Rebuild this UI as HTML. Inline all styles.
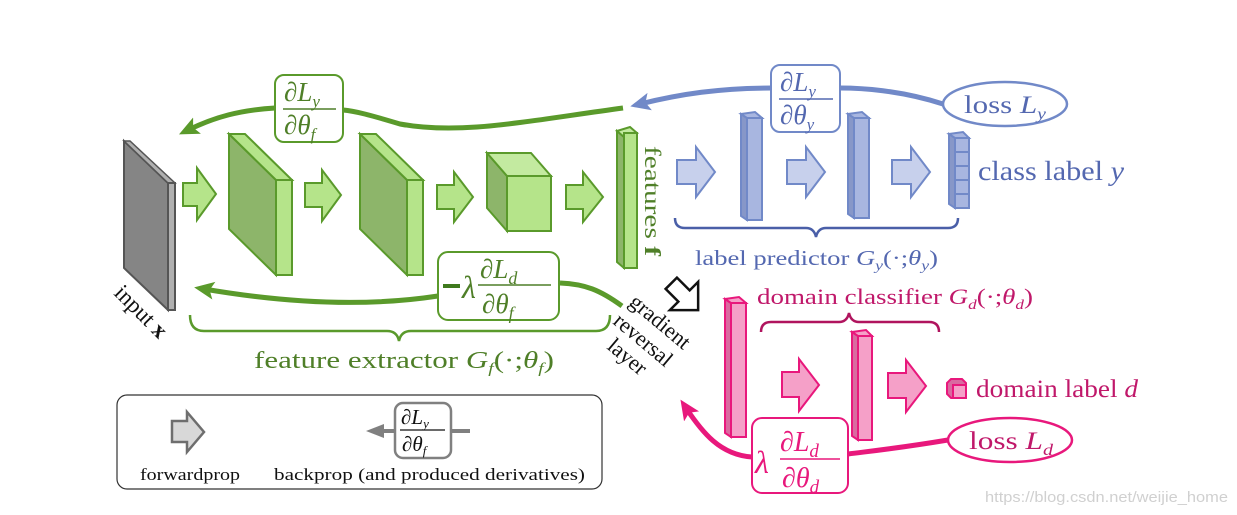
<!DOCTYPE html>
<html><head><meta charset="utf-8"><style>
html,body{margin:0;padding:0;background:#fff;}
svg{display:block;font-family:"Liberation Serif",serif;}
.i{font-style:italic}
</style></head><body>
<svg width="1237" height="515" viewBox="0 0 1237 515" xmlns="http://www.w3.org/2000/svg">
<defs>
<marker id="ag" markerWidth="4" markerHeight="4" viewBox="0 0 6 6" refX="3" refY="3" orient="auto" markerUnits="strokeWidth"><path d="M0,0.3 L6,3 L0,5.7 L1.3,3 z" fill="#5a9a2b"/></marker>
<marker id="ab" markerWidth="4" markerHeight="4" viewBox="0 0 6 6" refX="3" refY="3" orient="auto" markerUnits="strokeWidth"><path d="M0,0.3 L6,3 L0,5.7 L1.3,3 z" fill="#7189c8"/></marker>
<marker id="ap" markerWidth="4" markerHeight="4" viewBox="0 0 6 6" refX="3" refY="3" orient="auto" markerUnits="strokeWidth"><path d="M0,0.3 L6,3 L0,5.7 L1.3,3 z" fill="#e8187c"/></marker>
</defs>

<!-- input slab -->
<polygon points="124,141 168,183 168,310 124,268" fill="#858585" stroke="#555" stroke-width="2"/>
<polygon points="124,141 130,141 175,183 168,183" fill="#b0b0b0" stroke="#555" stroke-width="1.5"/>
<polygon points="168,183 175,183 175,310 168,310" fill="#b0b0b0" stroke="#555" stroke-width="2"/>

<!-- green arrows -->
<g fill="#b5e48a" stroke="#5a9a2b" stroke-width="2">
<polygon points="183,183 197,183 197,168 216,194 197,220 197,206 183,206"/>
<polygon points="305,183 322,183 322,170 341,195 322,221 322,207 305,207"/>
<polygon points="437,185 454,185 454,172 473,197 454,222 454,209 437,209"/>
<polygon points="566,185 583,185 583,172 603,197 583,222 583,209 566,209"/>
</g>
<g stroke="#5a9a2b" stroke-width="2">
<polygon points="229,134 276,180 276,275 229,229" fill="#8db56a"/>
<polygon points="229,134 245,134 292,180 276,180" fill="#b5e48a"/>
<polygon points="276,180 292,180 292,275 276,275" fill="#b5e48a"/>
<polygon points="360,134 407,180 407,275 360,229" fill="#8db56a"/>
<polygon points="360,134 376,134 423,180 407,180" fill="#b5e48a"/>
<polygon points="407,180 423,180 423,275 407,275" fill="#b5e48a"/>
<polygon points="487,153 507,176 507,231 487,208" fill="#8db56a"/>
<polygon points="487,153 531,153 551,176 507,176" fill="#c3eaa0"/>
<rect x="507" y="176" width="44" height="55" fill="#b5e48a"/>
<polygon points="617,131 624,137 624,268 617,262" fill="#8db56a"/>
<polygon points="617,131 630,127 637,133 624,137" fill="#c3eaa0"/>
<rect x="624" y="133" width="13" height="135" fill="#b5e48a"/>
</g>
<text transform="translate(645,146) rotate(90)" font-size="23" fill="#4f7f28" textLength="110" lengthAdjust="spacingAndGlyphs">features <tspan font-weight="bold">f</tspan></text>

<!-- blue arrows -->
<g fill="#c7d0ec" stroke="#7189c8" stroke-width="2">
<polygon points="677,160 696,160 696,147 715,172 696,197 696,184 677,184"/>
<polygon points="787,160 806,160 806,147 825,172 806,197 806,184 787,184"/>
<polygon points="892,160 911,160 911,147 930,172 911,197 911,184 892,184"/>
</g>
<g fill="#a8b6e0" stroke="#7189c8" stroke-width="2">
<polygon points="741,114 747,118 747,220 741,216" fill="#8797c8"/>
<polygon points="741,114 755,112 762,118 747,118"/>
<rect x="747" y="118" width="15" height="102"/>
<polygon points="848,114 854,118 854,218 848,214" fill="#8797c8"/>
<polygon points="848,114 862,112 869,118 854,118"/>
<rect x="854" y="118" width="15" height="100"/>
<polygon points="949,134 955,138 955,208 949,204" fill="#8797c8"/>
<polygon points="949,134 963,132 969,138 955,138"/>
<rect x="955" y="138" width="14" height="14"/><rect x="955" y="152" width="14" height="14"/><rect x="955" y="166" width="14" height="14"/><rect x="955" y="180" width="14" height="14"/><rect x="955" y="194" width="14" height="14"/>
</g>
<text x="978" y="180" font-size="27" fill="#5468b0" textLength="146" lengthAdjust="spacingAndGlyphs">class label <tspan class="i">y</tspan></text>
<path d="M675,218 q0,10 10,10 h121 q8,0 10,9 q2,-9 10,-9 h122 q10,0 10,-10" fill="none" stroke="#4a5fa8" stroke-width="2.5"/>
<text x="695" y="265" font-size="21" fill="#5468b0" textLength="243" lengthAdjust="spacingAndGlyphs">label predictor <tspan class="i">G</tspan><tspan class="i" font-size="14" dy="5">y</tspan><tspan dy="-5">(·;</tspan><tspan class="i">θ</tspan><tspan class="i" font-size="14" dy="5">y</tspan><tspan dy="-5">)</tspan></text>

<!-- loss Ly -->
<ellipse cx="1005" cy="104" rx="62" ry="22" fill="#fff" stroke="#7189c8" stroke-width="2.5"/>
<text x="964" y="113" font-size="25" fill="#5468b0" textLength="82" lengthAdjust="spacingAndGlyphs">loss <tspan class="i">L</tspan><tspan class="i" font-size="16" dy="6">y</tspan></text>
<path d="M943,104 C900,90 860,88 840,88 M772,88 C720,88 680,94 640,104" fill="none" stroke="#7189c8" stroke-width="5" marker-end="url(#ab)"/>
<rect x="771" y="65" width="69" height="67" rx="9" fill="#fff" stroke="#7189c8" stroke-width="2"/>
<text x="780" y="91" font-size="27" fill="#5468b0"><tspan class="i">∂L</tspan><tspan class="i" font-size="17" dy="6">y</tspan></text>
<line x1="779" y1="99" x2="833" y2="99" stroke="#5468b0" stroke-width="1.5"/>
<text x="780" y="124" font-size="27" fill="#5468b0"><tspan class="i">∂θ</tspan><tspan class="i" font-size="17" dy="6">y</tspan></text>

<!-- green top backprop -->
<path d="M623,108 C520,122 460,135 400,124 C370,115 355,111 343,110 M275,108 C240,110 215,117 188,130" fill="none" stroke="#5a9a2b" stroke-width="5" marker-end="url(#ag)"/>
<rect x="275" y="75" width="68" height="67" rx="9" fill="#fff" stroke="#5a9a2b" stroke-width="2"/>
<text x="284" y="101" font-size="27" fill="#4f7f28"><tspan class="i">∂L</tspan><tspan class="i" font-size="17" dy="6">y</tspan></text>
<line x1="283" y1="109" x2="336" y2="109" stroke="#4f7f28" stroke-width="1.5"/>
<text x="284" y="134" font-size="27" fill="#4f7f28"><tspan class="i">∂θ</tspan><tspan class="i" font-size="17" dy="6">f</tspan></text>

<!-- green bottom backprop -->
<path d="M622,306 C600,290 585,284 560,283 M438,296 C360,308 280,302 204,289" fill="none" stroke="#5a9a2b" stroke-width="5" marker-end="url(#ag)"/>
<rect x="438" y="252" width="121" height="68" rx="10" fill="#fff" stroke="#5a9a2b" stroke-width="2"/>
<rect x="443" y="284" width="17" height="4" fill="#3f7a1e"/>
<text x="462" y="298" font-size="32" class="i" fill="#4f7f28">λ</text>
<text x="480" y="278" font-size="27" fill="#4f7f28"><tspan class="i">∂L</tspan><tspan class="i" font-size="18" dy="6">d</tspan></text>
<line x1="478" y1="285" x2="551" y2="285" stroke="#4f7f28" stroke-width="1.5"/>
<text x="482" y="313" font-size="27" fill="#4f7f28"><tspan class="i">∂θ</tspan><tspan class="i" font-size="18" dy="6">f</tspan></text>
<path d="M190,315 q0,16 14,16 h183 q10,0 12,10 q2,-10 12,-10 h185 q14,0 14,-16" fill="none" stroke="#5a9a2b" stroke-width="2.5"/>
<text x="254" y="368" font-size="24" fill="#4f7f28" textLength="300" lengthAdjust="spacingAndGlyphs">feature extractor <tspan class="i">G</tspan><tspan class="i" font-size="15" dy="5">f</tspan><tspan dy="-5">(·;</tspan><tspan class="i">θ</tspan><tspan class="i" font-size="15" dy="5">f</tspan><tspan dy="-5">)</tspan></text>

<text transform="translate(113,294) rotate(45)" font-size="23" fill="#111">input <tspan font-weight="bold">x</tspan></text>
<text transform="translate(628,304) rotate(40)" font-size="22" fill="#111">gradient</text>
<text transform="translate(612,323) rotate(40)" font-size="22" fill="#111">reversal</text>
<text transform="translate(606,348) rotate(40)" font-size="22" fill="#111">layer</text>
<!-- hollow arrow -->
<polygon points="-18,-8 0,-8 0,-20 20,0 0,20 0,8 -18,8" transform="translate(684,296) rotate(45)" fill="#fff" stroke="#111" stroke-width="2.5" stroke-linejoin="miter"/>

<!-- pink -->
<g fill="#f5a0c8" stroke="#e8187c" stroke-width="2">
<polygon points="782,372 799,372 799,359 819,385 799,411 799,397 782,397"/>
<polygon points="888,373 906,373 906,360 926,386 906,412 906,398 888,398"/>
<polygon points="725,299 731,303 731,437 725,433" fill="#d96aa0"/>
<polygon points="725,299 739,297 746,303 731,303"/>
<rect x="731" y="303" width="15" height="134"/>
<polygon points="852,332 858,336 858,440 852,436" fill="#d96aa0"/>
<polygon points="852,332 866,330 872,336 858,336"/>
<rect x="858" y="336" width="14" height="104"/>
<polygon points="947,383 951,379 962,379 966,383 966,398 951,398 947,394" fill="#d96aa0"/>
<rect x="953" y="385" width="13" height="13"/>
</g>
<text x="976" y="397" font-size="25" fill="#c0186a" textLength="162" lengthAdjust="spacingAndGlyphs">domain label <tspan class="i">d</tspan></text>
<text x="757" y="304" font-size="22" fill="#c0186a" textLength="276" lengthAdjust="spacingAndGlyphs">domain classifier <tspan class="i">G</tspan><tspan class="i" font-size="14" dy="5">d</tspan><tspan dy="-5">(·;</tspan><tspan class="i">θ</tspan><tspan class="i" font-size="14" dy="5">d</tspan><tspan dy="-5">)</tspan></text>
<path d="M761,332 q0,-10 10,-10 h68 q8,0 10,-9 q2,9 10,9 h70 q10,0 10,10" fill="none" stroke="#b0145e" stroke-width="2.5"/>
<ellipse cx="1010" cy="440" rx="62" ry="22" fill="#fff" stroke="#e8187c" stroke-width="2.5"/>
<text x="969" y="449" font-size="25" fill="#c0186a" textLength="84" lengthAdjust="spacingAndGlyphs">loss <tspan class="i">L</tspan><tspan class="i" font-size="16" dy="6">d</tspan></text>
<path d="M948,440 C900,448 880,450 848,454 M752,457 C720,455 702,432 686,408" fill="none" stroke="#e8187c" stroke-width="5" marker-end="url(#ap)"/>
<rect x="752" y="418" width="96" height="75" rx="10" fill="#fff" stroke="#e8187c" stroke-width="2"/>
<text x="755" y="473" font-size="32" class="i" fill="#e8187c">λ</text>
<text x="780" y="451" font-size="28" fill="#e8187c"><tspan class="i">∂L</tspan><tspan class="i" font-size="19" dy="6">d</tspan></text>
<line x1="780" y1="459" x2="840" y2="459" stroke="#e8187c" stroke-width="1.5"/>
<text x="782" y="487" font-size="28" fill="#e8187c"><tspan class="i">∂θ</tspan><tspan class="i" font-size="19" dy="6">d</tspan></text>

<!-- legend -->
<rect x="117" y="395" width="485" height="94" rx="10" fill="#fff" stroke="#333" stroke-width="1.2"/>
<polygon points="172,421 187,421 187,412 204,432 187,452 187,442 172,442" fill="#d8d8d8" stroke="#6e6e6e" stroke-width="2.5"/>
<text x="140" y="480" font-size="17" fill="#111" textLength="100" lengthAdjust="spacingAndGlyphs">forwardprop</text>
<line x1="380" y1="431" x2="470" y2="431" stroke="#808080" stroke-width="4"/>
<polygon points="366,431 384,424 384,438" fill="#808080"/>
<rect x="395" y="403" width="56" height="55" rx="8" fill="#fff" stroke="#808080" stroke-width="2.5"/>
<text x="401" y="424" font-size="21" fill="#111"><tspan class="i">∂L</tspan><tspan class="i" font-size="13" dy="4">y</tspan></text>
<line x1="400" y1="430" x2="445" y2="430" stroke="#111" stroke-width="1.2"/>
<text x="402" y="451" font-size="21" fill="#111"><tspan class="i">∂θ</tspan><tspan class="i" font-size="13" dy="4">f</tspan></text>
<text x="274" y="480" font-size="17" fill="#111" textLength="311" lengthAdjust="spacingAndGlyphs">backprop (and produced derivatives)</text>

<text x="985" y="502" font-size="15" fill="#d0d0d0" font-family="Liberation Sans, sans-serif" textLength="243" lengthAdjust="spacingAndGlyphs">https://blog.csdn.net/weijie_home</text>
</svg>
</body></html>
